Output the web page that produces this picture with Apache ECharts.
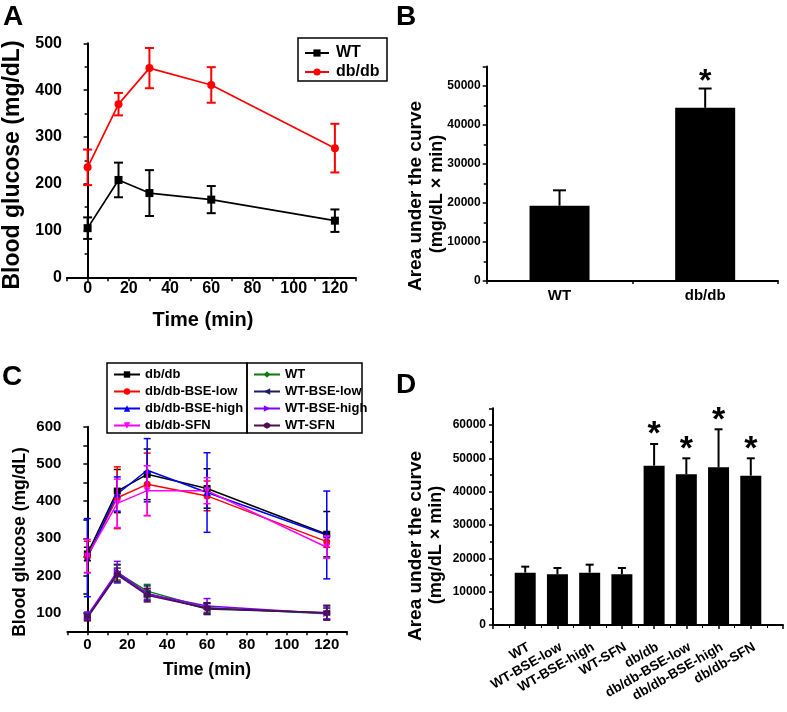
<!DOCTYPE html>
<html>
<head>
<meta charset="utf-8">
<script src="https://cdn.jsdelivr.net/npm/echarts@6/dist/echarts.min.js"></script>
<style>
html,body{margin:0;padding:0;background:#fff;}
#c{width:787px;height:712px;}
</style>
</head>
<body>
<div id="c"></div>
<script>
// ---------- DATA ----------
const timeA = [0, 15, 30, 60, 120];
const wtA = [105, 208, 180, 166, 121];
const wtAErr = [23, 37, 49, 29, 24];
const dbA = [235, 370, 447, 411, 276];
const dbAErr = [38, 24, 43, 38, 52];

const groupsB = ['WT', 'db/db'];
const aucB = [19300, 44400];
const aucBErr = [3950, 4950];
const starB = [0, 1];

const timeC = [0, 15, 30, 60, 120];
const namesC = ['db/db', 'db/db-BSE-low', 'db/db-BSE-high', 'db/db-SFN', 'WT', 'WT-BSE-low', 'WT-BSE-high', 'WT-SFN'];
const dbC = [258, 427, 472, 434, 311];
const dbCErr = [18, 58, 68, 53, 61];
const dbLowC = [250, 409, 445, 414, 291];
const dbLowCErr = [42, 83, 84, 40, 15];
const dbHighC = [248, 419, 483, 423, 309];
const dbHighCErr = [105, 46, 85, 107, 118];
const dbSfnC = [252, 394, 428, 428, 276];
const dbSfnCErr = [45, 65, 67, 35, 30];
const wtC = [90, 208, 158, 113, 97];
const wtCErr = [10, 20, 18, 12, 15];
const wtLowC = [88, 205, 152, 110, 100];
const wtLowCErr = [8, 25, 20, 15, 18];
const wtHighC = [92, 210, 150, 118, 98];
const wtHighCErr = [10, 28, 15, 20, 15];
const wtSfnC = [86, 202, 147, 112, 100];
const wtSfnCErr = [8, 18, 18, 15, 20];

const groupsD = ['WT', 'WT-BSE-low', 'WT-BSE-high', 'WT-SFN', 'db/db', 'db/db-BSE-low', 'db/db-BSE-high', 'db/db-SFN'];
const aucD = [15700, 15200, 15700, 15200, 47800, 45200, 47300, 44800];
const aucDErr = [1800, 1900, 2400, 1900, 6500, 4800, 11400, 5200];
const starD = [0, 0, 0, 0, 1, 1, 1, 1];

// ---------- STYLE ----------
const FONT = 'Liberation Sans, Arial, sans-serif';
const colorsC = ['#000000', '#ff0000', '#0000ff', '#ff00ff', '#0b7a0b', '#1c1c6b', '#8000ff', '#4d0f4d'];
const hexPath = 'path://M0,-1L0.866,-0.5L0.866,0.5L0,1L-0.866,0.5L-0.866,-0.5Z';
const symbolsC = ['rect', 'circle', 'triangle', 'triangle', 'diamond', 'triangle', 'triangle', hexPath];
const rotC = [0, 0, 0, 180, 0, 90, -90, 0];
const valsC = [dbC, dbLowC, dbHighC, dbSfnC, wtC, wtLowC, wtHighC, wtSfnC];
const errsC = [dbCErr, dbLowCErr, dbHighCErr, dbSfnCErr, wtCErr, wtLowCErr, wtHighCErr, wtSfnCErr];
const PFX = 'C:';

function errLine(color, lw, cap) {
  return function (params, api) {
    const x = api.value(0), y = api.value(1), e = api.value(2);
    const p1 = api.coord([x, y + e]), p2 = api.coord([x, y - e]);
    const s = { stroke: color, lineWidth: lw };
    return { type: 'group', children: [
      { type: 'line', shape: { x1: p1[0], y1: p1[1], x2: p2[0], y2: p2[1] }, style: s },
      { type: 'line', shape: { x1: p1[0] - cap, y1: p1[1], x2: p1[0] + cap, y2: p1[1] }, style: s },
      { type: 'line', shape: { x1: p2[0] - cap, y1: p2[1], x2: p2[0] + cap, y2: p2[1] }, style: s }
    ]};
  };
}
function errBar(lw, cap, starSize, starOff) {
  return function (params, api) {
    const x = api.value(0), y = api.value(1), e = api.value(2), st = api.value(3);
    const p0 = api.coord([x, y]), p1 = api.coord([x, y + e]);
    const s = { stroke: '#000', lineWidth: lw };
    const ch = [
      { type: 'line', shape: { x1: p0[0], y1: p0[1], x2: p1[0], y2: p1[1] }, style: s },
      { type: 'line', shape: { x1: p1[0] - cap, y1: p1[1], x2: p1[0] + cap, y2: p1[1] }, style: s }
    ];
    if (st) ch.push({ type: 'text', x: p1[0], y: p1[1] - starOff,
      style: { text: '*', fill: '#000', font: 'bold ' + starSize + 'px ' + FONT, align: 'center', verticalAlign: 'middle' } });
    return { type: 'group', children: ch };
  };
}

const axisLineStyle = { lineStyle: { color: '#000', width: 2 } };
function xTimeAxis(gi, fs, margin) {
  return {
    type: 'value', gridIndex: gi, min: -10, max: 130, interval: 10,
    axisLine: { show: true, onZero: false, lineStyle: { color: '#000', width: 2 } },
    axisTick: { show: true, length: 4, lineStyle: { color: '#000', width: 1.5 } },
    splitLine: { show: false },
    axisLabel: { color: '#000', fontFamily: FONT, fontWeight: 'bold', fontSize: fs, margin: margin,
      formatter: v => (v >= 0 && v <= 120 && v % 20 === 0) ? String(v) : '' }
  };
}

const series = [];
// Panel A
series.push({ name: 'WT', type: 'line', xAxisIndex: 0, yAxisIndex: 0, data: timeA.map((t, i) => [t, wtA[i]]),
  symbol: 'rect', symbolSize: 8, itemStyle: { color: '#000' }, lineStyle: { color: '#000', width: 1.7 } });
series.push({ name: 'db/db', type: 'line', xAxisIndex: 0, yAxisIndex: 0, data: timeA.map((t, i) => [t, dbA[i]]),
  symbol: 'circle', symbolSize: 8, itemStyle: { color: '#ff0000' }, lineStyle: { color: '#ff0000', width: 1.7 } });
series.push({ type: 'custom', xAxisIndex: 0, yAxisIndex: 0, renderItem: errLine('#000', 2, 4.5),
  encode: { x: 0, y: 1 }, data: timeA.map((t, i) => [t, wtA[i], wtAErr[i]]), z: 3 });
series.push({ type: 'custom', xAxisIndex: 0, yAxisIndex: 0, renderItem: errLine('#ff0000', 2, 4.5),
  encode: { x: 0, y: 1 }, data: timeA.map((t, i) => [t, dbA[i], dbAErr[i]]), z: 3 });
// Panel B
series.push({ type: 'bar', xAxisIndex: 1, yAxisIndex: 1, data: aucB, barWidth: 60, itemStyle: { color: '#000' } });
series.push({ type: 'custom', xAxisIndex: 1, yAxisIndex: 1, renderItem: errBar(2, 6.5, 32, 6),
  encode: { x: 0, y: 1 }, data: aucB.map((v, i) => [i, v, aucBErr[i], starB[i]]), z: 3 });
// Panel C
namesC.forEach((n, k) => {
  series.push({ name: PFX + n, type: 'line', xAxisIndex: 2, yAxisIndex: 2, data: timeC.map((t, i) => [t, valsC[k][i]]),
    symbol: symbolsC[k], symbolRotate: rotC[k], symbolSize: 7, itemStyle: { color: colorsC[k] },
    lineStyle: { color: colorsC[k], width: 1.5 }, z: 2 });
  series.push({ type: 'custom', xAxisIndex: 2, yAxisIndex: 2, renderItem: errLine(colorsC[k], 1.5, 3.5),
    encode: { x: 0, y: 1 }, data: timeC.map((t, i) => [t, valsC[k][i], errsC[k][i]]), z: 3 });
});
// Panel D
series.push({ type: 'bar', xAxisIndex: 3, yAxisIndex: 3, data: aucD.map((v, i) => [i + 1, v]), barWidth: 21, itemStyle: { color: '#000' } });
series.push({ type: 'custom', xAxisIndex: 3, yAxisIndex: 3, renderItem: errBar(2, 4, 34, 9),
  encode: { x: 0, y: 1 }, data: aucD.map((v, i) => [i + 1, v, aucDErr[i], starD[i]]), z: 3 });

function gtext(x, y, text, size, rot, align, valign) {
  return { type: 'text', x: x, y: y, rotation: rot || 0,
    style: { text: text, fill: '#000', font: 'bold ' + size + 'px ' + FONT, align: align || 'center', verticalAlign: valign || 'middle' } };
}
const legText = { color: '#000', fontFamily: FONT, fontWeight: 'bold', fontSize: 13, lineHeight: 15 };

const option = {
  animation: false,
  backgroundColor: '#fff',
  grid: [
    { left: 67, top: 43.3, width: 288.5, height: 234 },
    { left: 486.7, top: 66.5, width: 291.3, height: 214.5 },
    { left: 67.4, top: 426.7, width: 279.3, height: 204.6 },
    { left: 493, top: 408.3, width: 290, height: 216.7 }
  ],
  xAxis: [
    xTimeAxis(0, 16, 3),
    { type: 'category', gridIndex: 1, data: groupsB,
      axisLine: axisLineStyle, axisTick: { show: true, length: 3, lineStyle: { color: '#000', width: 1.5 } },
      axisLabel: { color: '#000', fontFamily: FONT, fontWeight: 'bold', fontSize: 15, margin: 7 } },
    xTimeAxis(2, 15, 6),
    { type: 'value', gridIndex: 3, min: 0, max: 9, interval: 1,
      axisLine: { show: true, onZero: false, lineStyle: { color: '#000', width: 2 } },
      axisTick: { show: true, length: 4, lineStyle: { color: '#000', width: 1.5 } },
      minorTick: { show: true, splitNumber: 2, length: 3, lineStyle: { color: '#000', width: 1 } },
      splitLine: { show: false },
      axisLabel: { color: '#000', fontFamily: FONT, fontWeight: 'bold', fontSize: 13.5, rotate: 30, margin: 15,
        verticalAlign: 'top', formatter: v => (v >= 1 && v <= 8) ? groupsD[v - 1] : '' } }
  ],
  yAxis: [
    { type: 'value', gridIndex: 0, min: 0, max: 500, interval: 100,
      axisLine: { show: true, lineStyle: { color: '#000', width: 2 } },
      axisTick: { show: true, length: 4, lineStyle: { color: '#000', width: 1.5 } },
      minorTick: { show: true, splitNumber: 2, length: 3, lineStyle: { color: '#000', width: 1.5 } },
      splitLine: { show: false },
      axisLabel: { color: '#000', fontFamily: FONT, fontWeight: 'bold', fontSize: 16, margin: 5 } },
    { type: 'value', gridIndex: 1, min: 0, max: 55000, interval: 10000,
      axisLine: { show: true, lineStyle: { color: '#000', width: 2 } },
      axisTick: { show: true, length: 4, lineStyle: { color: '#000', width: 1.5 } },
      minorTick: { show: true, splitNumber: 2, length: 3, lineStyle: { color: '#000', width: 1.5 } },
      splitLine: { show: false },
      axisLabel: { color: '#000', fontFamily: FONT, fontWeight: 'bold', fontSize: 12, margin: 6,
        formatter: v => v % 10000 === 0 ? String(v) : '' } },
    { type: 'value', gridIndex: 2, min: 50, max: 600, interval: 50,
      axisLine: { show: true, lineStyle: { color: '#000', width: 2 } },
      axisTick: { show: true, length: 4, lineStyle: { color: '#000', width: 1.5 } },
      splitLine: { show: false },
      axisLabel: { color: '#000', fontFamily: FONT, fontWeight: 'bold', fontSize: 15, margin: 6,
        formatter: v => v % 100 === 0 ? String(v) : '' } },
    { type: 'value', gridIndex: 3, min: 0, max: 65000, interval: 10000,
      axisLine: { show: true, lineStyle: { color: '#000', width: 2 } },
      axisTick: { show: true, length: 4, lineStyle: { color: '#000', width: 1.5 } },
      minorTick: { show: true, splitNumber: 2, length: 3, lineStyle: { color: '#000', width: 1.5 } },
      splitLine: { show: false },
      axisLabel: { color: '#000', fontFamily: FONT, fontWeight: 'bold', fontSize: 12, margin: 7,
        formatter: v => v % 10000 === 0 ? String(v) : '' } }
  ],
  legend: [
    { data: ['WT', 'db/db'], orient: 'vertical', left: 304, top: 45, itemWidth: 24, itemHeight: 9, itemGap: 3,
      padding: 0, textStyle: { color: '#000', fontFamily: FONT, fontWeight: 'bold', fontSize: 16, padding: [0, 0, 0, 2] }, selectedMode: false },
    { data: namesC.slice(0, 4).map(n => PFX + n), orient: 'vertical', left: 113, top: 367, itemWidth: 26, itemHeight: 8, itemGap: 2,
      padding: 0, textStyle: legText, selectedMode: false, formatter: n => n.slice(PFX.length) },
    { data: namesC.slice(4).map(n => PFX + n), orient: 'vertical', left: 253, top: 367, itemWidth: 26, itemHeight: 8, itemGap: 2,
      padding: 0, textStyle: legText, selectedMode: false, formatter: n => n.slice(PFX.length) }
  ],
  graphic: [
    { type: 'rect', shape: { x: 298, y: 38, width: 89, height: 43 }, style: { fill: 'none', stroke: '#000', lineWidth: 1.5 } },
    { type: 'rect', shape: { x: 107, y: 363, width: 140, height: 70 }, style: { fill: 'none', stroke: '#000', lineWidth: 1.5 } },
    { type: 'rect', shape: { x: 247, y: 363, width: 115, height: 70 }, style: { fill: 'none', stroke: '#000', lineWidth: 1.5 } },
    gtext(3, 3, 'A', 28, 0, 'left', 'top'),
    gtext(396, 3, 'B', 28, 0, 'left', 'top'),
    gtext(2, 363, 'C', 28, 0, 'left', 'top'),
    gtext(396, 371, 'D', 28, 0, 'left', 'top'),
    gtext(13, 165, 'Blood glucose (mg/dL)', 23, Math.PI / 2),
    gtext(203, 320, 'Time (min)', 20),
    gtext(416, 196, 'Area under the curve', 19, Math.PI / 2),
    gtext(437, 194, '(mg/dL × min)', 18, Math.PI / 2),
    gtext(20, 542, 'Blood glucose (mg/dL)', 17.5, Math.PI / 2),
    gtext(207, 670, 'Time (min)', 17.5),
    gtext(416, 546, 'Area under the curve', 19, Math.PI / 2),
    gtext(436, 545, '(mg/dL × min)', 18, Math.PI / 2)
  ],
  series: series
};
const chart = echarts.init(document.getElementById('c'), null, { renderer: 'canvas' });
chart.setOption(option);
</script>
</body>
</html>
